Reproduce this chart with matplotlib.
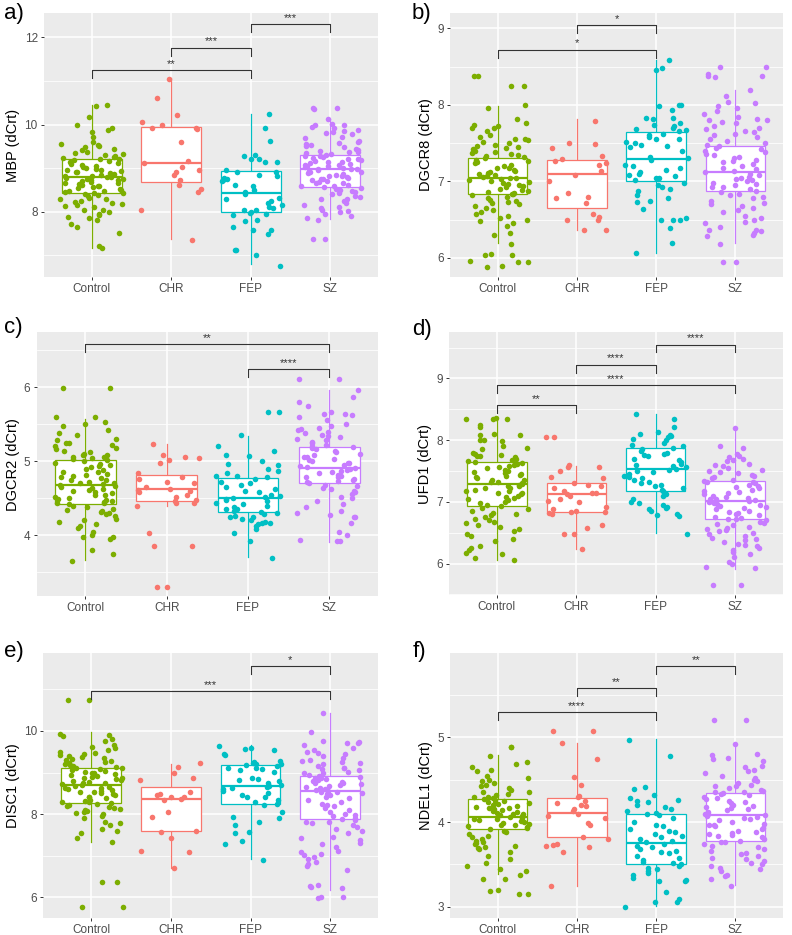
import numpy as np
import matplotlib.pyplot as plt

plt.rcParams['font.family'] = ['Liberation Sans', 'DejaVu Sans']

groups = ["Control", "CHR", "FEP", "SZ"]
colors = ["#7CAE00", "#F8766D", "#00BFC4", "#C77CFF"]

# ---- a) MBP ----
mbp_control = [10.45, 10.43, 10.17, 10.0, 9.93, 9.88, 9.82, 9.72, 9.6, 9.55, 9.52, 9.5, 9.48, 9.45, 9.42, 9.38,
               9.35, 9.32, 9.3, 9.28, 9.25, 9.24, 9.22, 9.2, 9.18, 9.16, 9.15, 9.12, 9.1, 9.08, 9.05, 9.03, 9.0,
               8.98, 8.96, 8.95, 8.93, 8.92, 8.9, 8.88, 8.86, 8.85, 8.83, 8.82, 8.8, 8.79, 8.78, 8.76, 8.75, 8.73,
               8.72, 8.7, 8.68, 8.66, 8.65, 8.63, 8.62, 8.6, 8.58, 8.56, 8.55, 8.53, 8.5, 8.48, 8.47, 8.45, 8.43,
               8.42, 8.4, 8.38, 8.35, 8.32, 8.3, 8.28, 8.25, 8.22, 8.2, 8.18, 8.15, 8.12, 8.1, 8.05, 8.03, 8.0,
               7.95, 7.92, 7.88, 7.85, 7.8, 7.72, 7.65, 7.5, 7.22, 7.17]
mbp_chr = [11.05, 10.6, 10.21, 10.05, 10.0, 9.93, 9.92, 9.9, 9.59, 9.16, 9.12, 9.03, 8.95, 8.9, 8.85, 8.72,
           8.61, 8.51, 8.45, 8.04, 7.36]
mbp_fep = [10.24, 9.92, 9.62, 9.31, 9.27, 9.22, 9.2, 9.15, 9.14, 8.95, 8.92, 8.9, 8.85, 8.82, 8.78, 8.75, 8.72,
           8.7, 8.62, 8.6, 8.5, 8.45, 8.4, 8.32, 8.3, 8.25, 8.2, 8.15, 8.1, 8.08, 8.05, 8.03, 8.0, 7.97, 7.95,
           7.93, 7.82, 7.78, 7.65, 7.58, 7.57, 7.48, 7.13, 7.12, 7.0, 6.75]
mbp_sz = [10.38, 10.38, 10.35, 10.12, 10.02, 10.0, 9.98, 9.95, 9.92, 9.88, 9.85, 9.82, 9.8, 9.78, 9.72, 9.68,
          9.62, 9.6, 9.58, 9.55, 9.52, 9.5, 9.48, 9.45, 9.42, 9.4, 9.38, 9.36, 9.34, 9.32, 9.3, 9.28, 9.27,
          9.25, 9.23, 9.22, 9.2, 9.18, 9.17, 9.15, 9.13, 9.12, 9.1, 9.08, 9.07, 9.05, 9.04, 9.02, 9.0, 8.99,
          8.98, 8.97, 8.95, 8.93, 8.92, 8.9, 8.88, 8.87, 8.85, 8.83, 8.82, 8.8, 8.78, 8.76, 8.75, 8.72, 8.7,
          8.68, 8.66, 8.65, 8.62, 8.6, 8.58, 8.57, 8.55, 8.52, 8.5, 8.48, 8.45, 8.42, 8.4, 8.36, 8.33, 8.3,
          8.28, 8.25, 8.2, 8.15, 8.1, 8.08, 8.05, 8.02, 8.0, 7.95, 7.9, 7.85, 7.8, 7.38, 7.38]
mbp_med = [8.79, 9.12, 8.43, 8.97]
mbp_q1 = [8.42, 8.68, 7.99, 8.57]
mbp_q3 = [9.22, 9.95, 8.94, 9.30]
mbp_wlo = [7.17, 7.38, 6.79, 7.84]
mbp_whi = [10.45, 11.06, 10.24, 10.13]

# ---- b) DGCR8 ----
dgcr8_control = [8.38, 8.38, 8.24, 8.24, 8.0, 7.96, 7.82, 7.76, 7.74, 7.72, 7.7, 7.7, 7.66, 7.6, 7.58, 7.56,
                 7.55, 7.54, 7.52, 7.5, 7.48, 7.46, 7.45, 7.43, 7.42, 7.4, 7.38, 7.37, 7.36, 7.35, 7.33, 7.32,
                 7.3, 7.28, 7.27, 7.25, 7.24, 7.22, 7.2, 7.18, 7.17, 7.15, 7.14, 7.12, 7.11, 7.1, 7.08, 7.07,
                 7.06, 7.05, 7.04, 7.03, 7.02, 7.0, 6.99, 6.98, 6.97, 6.95, 6.94, 6.92, 6.9, 6.89, 6.88, 6.86,
                 6.85, 6.84, 6.83, 6.82, 6.8, 6.78, 6.76, 6.75, 6.73, 6.72, 6.7, 6.68, 6.65, 6.63, 6.6, 6.57,
                 6.55, 6.52, 6.5, 6.48, 6.45, 6.42, 6.32, 6.3, 6.18, 6.05, 6.04, 6.04, 5.96, 5.95, 5.95, 5.9,
                 5.88]
dgcr8_chr = [7.79, 7.5, 7.49, 7.43, 7.33, 7.29, 7.26, 7.24, 7.22, 7.14, 7.08, 7.0, 6.85, 6.79, 6.78, 6.72,
             6.58, 6.53, 6.5, 6.49, 6.37, 6.36]
dgcr8_fep = [8.58, 8.48, 8.46, 8.0, 8.0, 7.98, 7.93, 7.83, 7.83, 7.82, 7.76, 7.74, 7.73, 7.7, 7.68, 7.67,
             7.66, 7.62, 7.6, 7.58, 7.56, 7.55, 7.52, 7.5, 7.48, 7.46, 7.45, 7.4, 7.32, 7.3, 7.28, 7.22, 7.2,
             7.18, 7.15, 7.12, 7.1, 7.08, 7.07, 7.05, 7.04, 7.02, 6.98, 6.95, 6.92, 6.9, 6.88, 6.82, 6.78,
             6.75, 6.73, 6.64, 6.52, 6.5, 6.5, 6.49, 6.39, 6.19, 6.07]
dgcr8_sz = [8.5, 8.5, 8.4, 8.38, 8.38, 8.37, 8.2, 8.12, 8.04, 8.02, 7.98, 7.96, 7.92, 7.88, 7.84, 7.82, 7.8,
            7.8, 7.78, 7.76, 7.72, 7.7, 7.68, 7.66, 7.65, 7.62, 7.6, 7.58, 7.55, 7.53, 7.5, 7.48, 7.46, 7.44,
            7.42, 7.4, 7.38, 7.36, 7.34, 7.32, 7.3, 7.28, 7.26, 7.25, 7.23, 7.2, 7.18, 7.16, 7.14, 7.12, 7.1,
            7.08, 7.06, 7.05, 7.03, 7.02, 7.0, 6.98, 6.97, 6.95, 6.93, 6.92, 6.9, 6.88, 6.86, 6.84, 6.82, 6.8,
            6.78, 6.75, 6.72, 6.7, 6.68, 6.65, 6.62, 6.6, 6.55, 6.52, 6.5, 6.47, 6.45, 6.4, 6.37, 6.36, 6.35,
            6.32, 6.3, 6.28, 6.18, 5.94, 5.94]
dgcr8_med = [7.05, 7.09, 7.29, 7.12]
dgcr8_q1 = [6.83, 6.65, 7.00, 6.88]
dgcr8_q3 = [7.31, 7.28, 7.65, 7.46]
dgcr8_wlo = [6.19, 6.36, 6.07, 6.19]
dgcr8_whi = [7.98, 7.81, 8.58, 8.20]

# ---- c) DGCR2 ----
dgcr2_control = [5.99, 5.99, 5.59, 5.59, 5.53, 5.5, 5.47, 5.42, 5.38, 5.35, 5.3, 5.28, 5.25, 5.24, 5.22, 5.2,
                 5.18, 5.16, 5.14, 5.12, 5.1, 5.09, 5.08, 5.06, 5.05, 5.04, 5.03, 5.02, 5.0, 4.98, 4.96, 4.95,
                 4.93, 4.92, 4.9, 4.88, 4.86, 4.85, 4.83, 4.82, 4.8, 4.78, 4.77, 4.75, 4.74, 4.72, 4.71, 4.7,
                 4.69, 4.68, 4.67, 4.65, 4.64, 4.62, 4.61, 4.6, 4.58, 4.57, 4.55, 4.54, 4.52, 4.5, 4.49, 4.48,
                 4.46, 4.45, 4.44, 4.43, 4.42, 4.4, 4.38, 4.36, 4.34, 4.33, 4.32, 4.3, 4.28, 4.26, 4.22, 4.2,
                 4.18, 4.15, 4.12, 4.1, 4.05, 4.0, 3.98, 3.97, 3.95, 3.8, 3.75, 3.65]
dgcr2_chr = [5.23, 5.08, 5.06, 5.04, 5.02, 4.98, 4.84, 4.78, 4.76, 4.72, 4.7, 4.65, 4.62, 4.61, 4.6, 4.58,
             4.55, 4.52, 4.48, 4.46, 4.44, 4.43, 4.4, 4.03, 3.86, 3.86, 3.3, 3.3]
dgcr2_fep = [5.67, 5.67, 5.35, 5.2, 5.14, 5.08, 5.07, 5.0, 4.96, 4.95, 4.9, 4.87, 4.84, 4.8, 4.8, 4.78, 4.76,
             4.72, 4.7, 4.68, 4.65, 4.62, 4.6, 4.58, 4.55, 4.53, 4.52, 4.5, 4.49, 4.48, 4.46, 4.44, 4.42, 4.4,
             4.38, 4.36, 4.35, 4.33, 4.32, 4.3, 4.28, 4.26, 4.25, 4.24, 4.22, 4.2, 4.18, 4.17, 4.16, 4.15,
             4.12, 4.08, 4.03, 3.92, 3.69]
dgcr2_sz = [6.11, 6.11, 5.96, 5.86, 5.8, 5.75, 5.66, 5.64, 5.64, 5.62, 5.6, 5.55, 5.5, 5.48, 5.45, 5.44, 5.42,
            5.4, 5.38, 5.36, 5.34, 5.32, 5.3, 5.28, 5.26, 5.24, 5.22, 5.2, 5.19, 5.18, 5.16, 5.14, 5.12, 5.1,
            5.08, 5.06, 5.05, 5.03, 5.02, 5.0, 4.98, 4.97, 4.95, 4.94, 4.92, 4.91, 4.9, 4.88, 4.87, 4.85,
            4.84, 4.82, 4.8, 4.79, 4.78, 4.76, 4.75, 4.73, 4.72, 4.7, 4.68, 4.66, 4.64, 4.62, 4.6, 4.58, 4.56,
            4.52, 4.5, 4.46, 4.42, 4.38, 4.33, 4.3, 4.27, 4.24, 4.24, 4.17, 4.04, 4.0, 3.93, 3.92, 3.92]
dgcr2_med = [4.68, 4.62, 4.50, 4.91]
dgcr2_q1 = [4.42, 4.46, 4.31, 4.70]
dgcr2_q3 = [5.02, 4.82, 4.77, 5.19]
dgcr2_wlo = [3.66, 4.40, 3.70, 3.91]
dgcr2_whi = [5.57, 5.23, 5.34, 5.96]

# ---- d) UFD1 ----
ufd1_control = [8.36, 8.35, 8.34, 8.34, 8.24, 8.22, 8.1, 8.08, 8.08, 8.0, 8.0, 7.98, 7.9, 7.88, 7.85, 7.8,
                7.78, 7.76, 7.75, 7.74, 7.72, 7.7, 7.68, 7.66, 7.65, 7.63, 7.62, 7.6, 7.58, 7.56, 7.55, 7.52,
                7.5, 7.48, 7.46, 7.45, 7.43, 7.42, 7.4, 7.38, 7.36, 7.35, 7.33, 7.32, 7.3, 7.29, 7.28, 7.26,
                7.25, 7.23, 7.22, 7.2, 7.18, 7.17, 7.15, 7.14, 7.12, 7.1, 7.08, 7.06, 7.05, 7.03, 7.0, 6.98,
                6.95, 6.93, 6.9, 6.88, 6.85, 6.82, 6.8, 6.78, 6.76, 6.72, 6.7, 6.68, 6.65, 6.62, 6.6, 6.56,
                6.52, 6.48, 6.45, 6.4, 6.36, 6.28, 6.25, 6.22, 6.17, 6.16, 6.09, 6.05]
ufd1_chr = [8.05, 8.05, 7.6, 7.57, 7.56, 7.5, 7.4, 7.38, 7.3, 7.28, 7.25, 7.22, 7.18, 7.15, 7.14, 7.12, 7.1,
            7.05, 7.02, 7.0, 6.92, 6.88, 6.85, 6.84, 6.84, 6.82, 6.8, 6.62, 6.58, 6.48, 6.48, 6.24]
ufd1_fep = [8.42, 8.34, 8.22, 8.13, 8.1, 8.08, 8.06, 8.05, 8.02, 8.0, 7.95, 7.92, 7.9, 7.88, 7.85, 7.82, 7.8,
            7.78, 7.76, 7.74, 7.7, 7.68, 7.65, 7.62, 7.6, 7.58, 7.56, 7.54, 7.52, 7.5, 7.48, 7.45, 7.42, 7.4,
            7.38, 7.35, 7.32, 7.3, 7.28, 7.25, 7.22, 7.2, 7.18, 7.15, 7.12, 7.1, 7.05, 7.0, 6.98, 6.95, 6.92,
            6.9, 6.88, 6.85, 6.8, 6.78, 6.77, 6.48]
ufd1_sz = [8.2, 7.9, 7.88, 7.78, 7.75, 7.72, 7.7, 7.68, 7.66, 7.62, 7.6, 7.58, 7.55, 7.52, 7.5, 7.48, 7.46,
           7.44, 7.42, 7.4, 7.38, 7.36, 7.34, 7.33, 7.32, 7.3, 7.28, 7.26, 7.24, 7.22, 7.2, 7.18, 7.16, 7.14,
           7.12, 7.1, 7.08, 7.06, 7.05, 7.04, 7.03, 7.02, 7.0, 6.99, 6.98, 6.96, 6.95, 6.93, 6.92, 6.9, 6.88,
           6.86, 6.84, 6.82, 6.8, 6.78, 6.76, 6.74, 6.73, 6.72, 6.7, 6.68, 6.66, 6.64, 6.62, 6.6, 6.58, 6.56,
           6.54, 6.52, 6.5, 6.48, 6.45, 6.42, 6.4, 6.38, 6.35, 6.32, 6.3, 6.28, 6.25, 6.22, 6.18, 6.15, 6.1,
           6.03, 6.0, 5.95, 5.93, 5.65, 5.65]
ufd1_med = [7.29, 7.12, 7.53, 7.02]
ufd1_q1 = [6.94, 6.84, 7.17, 6.72]
ufd1_q3 = [7.64, 7.30, 7.88, 7.34]
ufd1_wlo = [6.05, 6.24, 6.49, 5.92]
ufd1_whi = [8.35, 7.58, 8.42, 8.20]

# ---- e) DISC1 ----
disc1_control = [10.75, 10.75, 9.93, 9.9, 9.88, 9.8, 9.75, 9.65, 9.62, 9.6, 9.55, 9.5, 9.47, 9.45, 9.42, 9.4,
                 9.38, 9.35, 9.32, 9.3, 9.28, 9.25, 9.22, 9.2, 9.18, 9.15, 9.13, 9.12, 9.1, 9.08, 9.06, 9.04,
                 9.02, 9.0, 8.98, 8.96, 8.94, 8.92, 8.9, 8.88, 8.86, 8.84, 8.82, 8.8, 8.78, 8.76, 8.74, 8.72,
                 8.7, 8.68, 8.66, 8.64, 8.62, 8.6, 8.58, 8.56, 8.54, 8.52, 8.5, 8.48, 8.45, 8.42, 8.4, 8.38,
                 8.35, 8.32, 8.3, 8.28, 8.26, 8.24, 8.22, 8.2, 8.18, 8.15, 8.12, 8.1, 8.08, 8.05, 8.02, 8.0,
                 7.95, 7.9, 7.8, 7.78, 7.75, 7.65, 7.6, 7.55, 7.42, 7.32, 6.37, 6.37, 5.76, 5.76]
disc1_chr = [9.22, 9.14, 8.98, 8.86, 8.82, 8.52, 8.48, 8.45, 8.42, 8.4, 8.36, 8.33, 8.05, 7.92, 7.6, 7.58, 7.42,
             7.12, 7.1, 6.7]
disc1_fep = [9.63, 9.6, 9.56, 9.55, 9.45, 9.43, 9.28, 9.25, 9.22, 9.2, 9.2, 9.18, 9.15, 9.12, 9.1, 9.08, 9.05,
             9.02, 8.88, 8.85, 8.82, 8.8, 8.75, 8.7, 8.68, 8.65, 8.62, 8.6, 8.55, 8.5, 8.45, 8.42, 8.4, 8.35,
             8.28, 8.25, 8.22, 8.05, 7.92, 7.9, 7.8, 7.74, 7.58, 7.55, 7.35, 7.28, 6.9]
disc1_sz = [10.43, 9.98, 9.75, 9.73, 9.72, 9.7, 9.65, 9.6, 9.55, 9.5, 9.48, 9.45, 9.4, 9.35, 9.3, 9.28, 9.25,
            9.22, 9.2, 9.15, 9.12, 9.1, 9.08, 9.05, 9.02, 9.0, 8.98, 8.95, 8.92, 8.9, 8.88, 8.86, 8.84, 8.82,
            8.8, 8.78, 8.76, 8.74, 8.72, 8.7, 8.68, 8.65, 8.62, 8.6, 8.58, 8.56, 8.54, 8.52, 8.5, 8.48, 8.45,
            8.42, 8.38, 8.35, 8.3, 8.25, 8.22, 8.2, 8.15, 8.1, 8.05, 8.0, 7.98, 7.95, 7.9, 7.88, 7.85, 7.82,
            7.8, 7.78, 7.75, 7.7, 7.65, 7.6, 7.55, 7.45, 7.42, 7.38, 7.3, 7.28, 7.2, 7.12, 7.08, 7.05, 7.02,
            6.98, 6.92, 6.85, 6.8, 6.75, 6.65, 6.3, 6.28, 6.25, 6.22, 6.0, 6.0, 5.98]
disc1_med = [8.70, 8.36, 8.68, 8.56]
disc1_q1 = [8.26, 7.60, 8.24, 7.88]
disc1_q3 = [9.12, 8.66, 9.17, 8.92]
disc1_wlo = [7.34, 6.70, 6.92, 6.18]
disc1_whi = [9.97, 9.21, 9.66, 10.42]

# ---- f) NDEL1 ----
ndel1_control = [4.89, 4.89, 4.78, 4.71, 4.69, 4.65, 4.62, 4.6, 4.54, 4.52, 4.5, 4.48, 4.46, 4.44, 4.42, 4.4,
                 4.38, 4.36, 4.35, 4.33, 4.32, 4.3, 4.29, 4.28, 4.27, 4.26, 4.25, 4.24, 4.23, 4.22, 4.21, 4.2,
                 4.19, 4.18, 4.17, 4.16, 4.15, 4.14, 4.13, 4.12, 4.11, 4.1, 4.09, 4.08, 4.07, 4.06, 4.05, 4.04,
                 4.03, 4.02, 4.01, 4.0, 3.99, 3.98, 3.97, 3.96, 3.95, 3.94, 3.93, 3.92, 3.9, 3.88, 3.86, 3.84,
                 3.82, 3.8, 3.78, 3.76, 3.75, 3.74, 3.72, 3.7, 3.69, 3.68, 3.65, 3.6, 3.56, 3.52, 3.48, 3.45,
                 3.42, 3.38, 3.33, 3.33, 3.2, 3.19, 3.15, 3.15]
ndel1_chr = [5.08, 5.08, 4.93, 4.74, 4.53, 4.44, 4.31, 4.29, 4.25, 4.22, 4.2, 4.19, 4.15, 4.13, 4.1, 4.07,
             4.05, 3.99, 3.97, 3.82, 3.8, 3.74, 3.73, 3.72, 3.7, 3.65, 3.24]
ndel1_fep = [4.97, 4.78, 4.41, 4.39, 4.32, 4.28, 4.26, 4.25, 4.24, 4.2, 4.18, 4.15, 4.13, 4.11, 4.1, 4.08, 4.05,
             4.0, 3.97, 3.95, 3.92, 3.9, 3.88, 3.86, 3.84, 3.82, 3.8, 3.78, 3.76, 3.74, 3.72, 3.7, 3.68, 3.66,
             3.65, 3.63, 3.6, 3.58, 3.55, 3.53, 3.52, 3.5, 3.48, 3.46, 3.45, 3.42, 3.4, 3.38, 3.34, 3.32, 3.3,
             3.3, 3.17, 3.09, 3.06, 3.05, 3.0]
ndel1_sz = [5.2, 5.2, 4.92, 4.8, 4.79, 4.76, 4.75, 4.72, 4.66, 4.65, 4.62, 4.6, 4.58, 4.54, 4.52, 4.5, 4.48,
            4.46, 4.44, 4.43, 4.42, 4.4, 4.38, 4.37, 4.36, 4.35, 4.34, 4.33, 4.32, 4.3, 4.28, 4.27, 4.25, 4.24,
            4.22, 4.2, 4.19, 4.18, 4.16, 4.15, 4.14, 4.12, 4.1, 4.09, 4.08, 4.07, 4.06, 4.05, 4.04, 4.02, 4.0,
            3.98, 3.97, 3.96, 3.95, 3.93, 3.92, 3.9, 3.88, 3.87, 3.86, 3.85, 3.84, 3.82, 3.8, 3.78, 3.77, 3.76,
            3.74, 3.72, 3.7, 3.68, 3.66, 3.64, 3.62, 3.6, 3.58, 3.56, 3.54, 3.52, 3.5, 3.48, 3.46, 3.45, 3.42,
            3.38, 3.36, 3.33, 3.25]
ndel1_med = [4.06, 4.11, 3.75, 4.08]
ndel1_q1 = [3.92, 3.82, 3.50, 3.78]
ndel1_q3 = [4.27, 4.28, 4.10, 4.34]
ndel1_wlo = [3.39, 3.24, 3.01, 3.26]
ndel1_whi = [4.79, 4.93, 4.98, 4.92]

panels = [
    dict(tag="a)", ylabel="MBP (dCrt)", rect=[0.0556, 0.7037, 0.4217, 0.2824],
         data=[mbp_control, mbp_chr, mbp_fep, mbp_sz],
         stats=(mbp_med, mbp_q1, mbp_q3, mbp_wlo, mbp_whi),
         ylim=(6.5, 12.56), major=[8, 10, 12], minor=[7, 9, 11],
         sig=[(1, 3, 11.25, "**"), (2, 3, 11.76, "***"), (3, 4, 12.30, "***")],
         tagxy=(4, 14)),
    dict(tag="b)", ylabel="DGCR8 (dCrt)", rect=[0.5686, 0.7037, 0.4197, 0.2824],
         data=[dgcr8_control, dgcr8_chr, dgcr8_fep, dgcr8_sz],
         stats=(dgcr8_med, dgcr8_q1, dgcr8_q3, dgcr8_wlo, dgcr8_whi),
         ylim=(5.75, 9.2), major=[6, 7, 8, 9], minor=[6.5, 7.5, 8.5],
         sig=[(1, 3, 8.72, "*"), (2, 3, 9.04, "*")],
         tagxy=(412, 14)),
    dict(tag="c)", ylabel="DGCR2 (dCrt)", rect=[0.0463, 0.3626, 0.4310, 0.2820],
         data=[dgcr2_control, dgcr2_chr, dgcr2_fep, dgcr2_sz],
         stats=(dgcr2_med, dgcr2_q1, dgcr2_q3, dgcr2_wlo, dgcr2_whi),
         ylim=(3.18, 6.74), major=[4, 5, 6], minor=[3.5, 4.5, 5.5, 6.5],
         sig=[(1, 4, 6.58, "**"), (3, 4, 6.24, "****")],
         tagxy=(4, 327)),
    dict(tag="d)", ylabel="UFD1 (dCrt)", rect=[0.5673, 0.3636, 0.4210, 0.2811],
         data=[ufd1_control, ufd1_chr, ufd1_fep, ufd1_sz],
         stats=(ufd1_med, ufd1_q1, ufd1_q3, ufd1_wlo, ufd1_whi),
         ylim=(5.49, 9.75), major=[6, 7, 8, 9], minor=[5.5, 6.5, 7.5, 8.5, 9.5],
         sig=[(1, 2, 8.57, "**"), (1, 4, 8.89, "****"), (2, 3, 9.22, "****"), (3, 4, 9.55, "****")],
         tagxy=(412, 329)),
    dict(tag="e)", ylabel="DISC1 (dCrt)", rect=[0.0547, 0.0185, 0.4226, 0.2834],
         data=[disc1_control, disc1_chr, disc1_fep, disc1_sz],
         stats=(disc1_med, disc1_q1, disc1_q3, disc1_wlo, disc1_whi),
         ylim=(5.51, 11.88), major=[6, 8, 10], minor=[7, 9, 11],
         sig=[(1, 4, 10.96, "***"), (3, 4, 11.56, "*")],
         tagxy=(4, 651)),
    dict(tag="f)", ylabel="NDEL1 (dCrt)", rect=[0.5686, 0.0185, 0.4197, 0.2834],
         data=[ndel1_control, ndel1_chr, ndel1_fep, ndel1_sz],
         stats=(ndel1_med, ndel1_q1, ndel1_q3, ndel1_wlo, ndel1_whi),
         ylim=(2.87, 6.0), major=[3, 4, 5], minor=[3.5, 4.5, 5.5],
         sig=[(1, 3, 5.30, "****"), (2, 3, 5.58, "**"), (3, 4, 5.84, "**")],
         tagxy=(413, 651)),
]

W, H = 792, 935
fig = plt.figure(figsize=(W / 100, H / 100), dpi=100)

for k, p in enumerate(panels):
    ax = fig.add_axes(p["rect"])
    ax.set_facecolor("#EBEBEB")
    for s in ax.spines.values():
        s.set_visible(False)
    ax.set_xlim(0.4, 4.6)
    ax.set_ylim(*p["ylim"])
    ax.set_xticks([1, 2, 3, 4])
    ax.set_xticklabels(groups)
    ax.set_yticks(p["major"])
    ax.set_yticks(p["minor"], minor=True)
    ax.grid(True, which="major", color="white", lw=1.1)
    ax.grid(True, which="minor", axis="y", color="white", lw=0.55)
    ax.set_axisbelow(True)
    ax.tick_params(which="major", length=2.5, width=0.7, color="#333333",
                   labelsize=8.5, labelcolor="#4D4D4D", pad=2)
    ax.tick_params(which="minor", length=0)
    ax.set_ylabel(p["ylabel"], fontsize=10.5, labelpad=3)

    med, q1, q3, wlo, whi = p["stats"]
    stats = [dict(med=med[i], q1=q1[i], q3=q3[i], whislo=wlo[i], whishi=whi[i], fliers=[])
             for i in range(4)]
    art = ax.bxp(stats, positions=[1, 2, 3, 4], widths=0.75, patch_artist=True,
                 showfliers=False, showcaps=False, manage_ticks=False)
    for i, c in enumerate(colors):
        art["boxes"][i].set(facecolor="white", edgecolor=c, linewidth=0.9, zorder=2)
        art["medians"][i].set(color=c, linewidth=1.6, zorder=2.1)
        for w in art["whiskers"][2 * i:2 * i + 2]:
            w.set(color=c, linewidth=0.9, zorder=1.9)

    # horizontal jitter like geom_jitter(width = 0.4), scrambled deterministically
    for i, vals in enumerate(p["data"]):
        idx = np.arange(len(vals)) + 1 + 97 * i + 311 * k
        u = np.sin(idx * 12.9898 + 78.233) * 43758.5453
        off = (u - np.floor(u) - 0.5) * 0.8
        ax.scatter(i + 1 + off, vals, s=16, color=colors[i], linewidths=0, zorder=3)

    tip = 0.03 * (p["ylim"][1] - p["ylim"][0])
    for x1, x2, y, lab in p["sig"]:
        ax.plot([x1, x1, x2, x2], [y - tip, y, y, y - tip], color="#333333", lw=0.8, zorder=4)
        ax.annotate(lab, ((x1 + x2) / 2, y), xytext=(0, 1), textcoords="offset points",
                    ha="center", va="bottom", fontsize=8, color="#333333")

    tx, ty = p["tagxy"]
    fig.text(tx / W, 1 - ty / H, p["tag"], fontsize=16, ha="left", va="center")

fig.savefig("out.png", dpi=100)
